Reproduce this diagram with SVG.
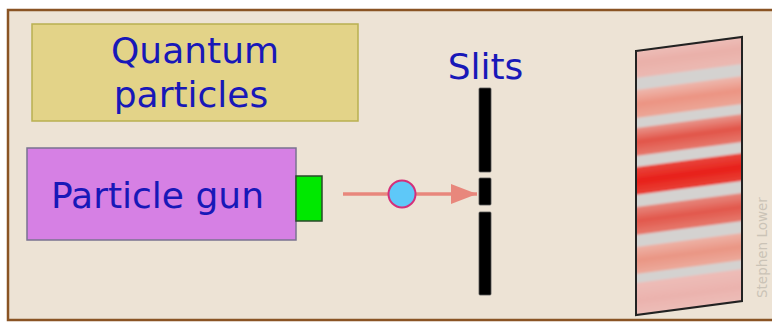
<svg xmlns="http://www.w3.org/2000/svg" width="772" height="322" viewBox="0 0 772 322">
  <style>
    .label { font-family: "DejaVu Sans", Verdana, sans-serif; font-size: 36px; fill: #1818B8; }
    .credit { font-family: "DejaVu Sans", sans-serif; font-size: 13.5px; fill: #CBC3B7; }
    .box { stroke-width: 1.5; }
    .bar { fill: #000; stroke: #555; stroke-width: 0.8; }
    .beam { stroke: #E8877C; stroke-width: 3.5; fill: none; }
  </style>
  <defs>
    <marker id="head" markerUnits="userSpaceOnUse" markerWidth="28" markerHeight="22" refX="26" refY="10" orient="auto">
      <path d="M0,0 L26,10 L0,20 Z" fill="#E8877C"/>
    </marker>
    <clipPath id="screen-clip">
      <polygon points="636,51 742,37 742,301 636,315"/>
    </clipPath>
    <filter id="soft" x="-5%" y="-5%" width="110%" height="110%">
      <feGaussianBlur stdDeviation="1.3"/>
    </filter>
    <!-- fringe intensity bands: pale at the edges, saturated in the middle -->
    <linearGradient id="b1" x1="0" y1="0" x2="0" y2="1">
      <stop offset="0" stop-color="#EEC2BD"/><stop offset="0.5" stop-color="#EAB0A9"/><stop offset="1" stop-color="#EBBAB3"/>
    </linearGradient>
    <linearGradient id="b2" x1="0" y1="0" x2="0" y2="1">
      <stop offset="0" stop-color="#EDB8AE"/><stop offset="0.5" stop-color="#EC9483"/><stop offset="1" stop-color="#ECA798"/>
    </linearGradient>
    <linearGradient id="b3" x1="0" y1="0" x2="0" y2="1">
      <stop offset="0" stop-color="#E8968C"/><stop offset="0.5" stop-color="#E25549"/><stop offset="1" stop-color="#E67A6E"/>
    </linearGradient>
    <linearGradient id="b4" x1="0" y1="0" x2="0" y2="1">
      <stop offset="0" stop-color="#E8483E"/><stop offset="0.5" stop-color="#E8201A"/><stop offset="1" stop-color="#E84238"/>
    </linearGradient>
    <linearGradient id="b5" x1="0" y1="0" x2="0" y2="1">
      <stop offset="0" stop-color="#E6887E"/><stop offset="0.5" stop-color="#E2584C"/><stop offset="1" stop-color="#E67A6E"/>
    </linearGradient>
    <linearGradient id="b6" x1="0" y1="0" x2="0" y2="1">
      <stop offset="0" stop-color="#EDB2A6"/><stop offset="0.5" stop-color="#EA9684"/><stop offset="1" stop-color="#ECAA9C"/>
    </linearGradient>
    <linearGradient id="b7" x1="0" y1="0" x2="0" y2="1">
      <stop offset="0" stop-color="#EDBDB8"/><stop offset="0.5" stop-color="#EBB3AE"/><stop offset="1" stop-color="#EDC0BB"/>
    </linearGradient>
  </defs>

  <!-- page and framed panel -->
  <rect x="0" y="0" width="772" height="322" fill="#FFFFFF"/>
  <rect id="frame" x="8" y="10" width="790" height="310" fill="#EDE3D5" stroke="#8A5424" stroke-width="2.5"/>

  <g id="quantum-particles">
    <rect class="box" x="32" y="24" width="326" height="97" fill="#E3D388" stroke="#B9B050"/>
    <text class="label" x="195" y="63" text-anchor="middle">Quantum</text>
    <text class="label" x="191" y="107" text-anchor="middle">particles</text>
  </g>

  <g id="particle-gun">
    <rect class="box" x="27" y="148" width="269" height="92" fill="#D680E4" stroke="#7A7390"/>
    <rect class="box" x="296" y="176" width="26" height="45" fill="#00E800" stroke="#2A4A2A"/>
    <text class="label" x="51" y="208">Particle gun</text>
  </g>

  <g id="connectors">
    <line class="beam" x1="343" y1="194" x2="477" y2="194" marker-end="url(#head)"/>
  </g>

  <g id="particle">
    <circle cx="402" cy="194" r="13.5" fill="#5EC8F8" stroke="#D4307A" stroke-width="2"/>
  </g>

  <g id="slits">
    <text class="label" x="485.5" y="79" text-anchor="middle">Slits</text>
    <rect class="bar" x="479" y="88" width="12" height="84" rx="1"/>
    <rect class="bar" x="479" y="178" width="12" height="27" rx="1"/>
    <rect class="bar" x="479" y="212" width="12" height="83" rx="1"/>
  </g>

  <g id="screen">
    <g clip-path="url(#screen-clip)">
      <!-- bands drawn in a sheared frame so they follow the tilt of the screen -->
      <g transform="translate(636,51) skewY(-7.5)" filter="url(#soft)">
        <rect x="-4" y="-4" width="114" height="272" fill="#D4D2D0"/>
        <rect x="-4" y="-4" width="114" height="31" fill="url(#b1)"/>
        <rect x="-4" y="39" width="114" height="28" fill="url(#b2)"/>
        <rect x="-4" y="77" width="114" height="28" fill="url(#b3)"/>
        <rect x="-4" y="116" width="114" height="28" fill="url(#b4)"/>
        <rect x="-4" y="156" width="114" height="28" fill="url(#b5)"/>
        <rect x="-4" y="196" width="114" height="27" fill="url(#b6)"/>
        <rect x="-4" y="232" width="114" height="36" fill="url(#b7)"/>
      </g>
    </g>
    <polygon points="636,51 742,37 742,301 636,315" fill="none" stroke="#222" stroke-width="2" stroke-linejoin="miter"/>
  </g>

  <text class="credit" transform="translate(767,298) rotate(-90)">Stephen Lower</text>
</svg>
